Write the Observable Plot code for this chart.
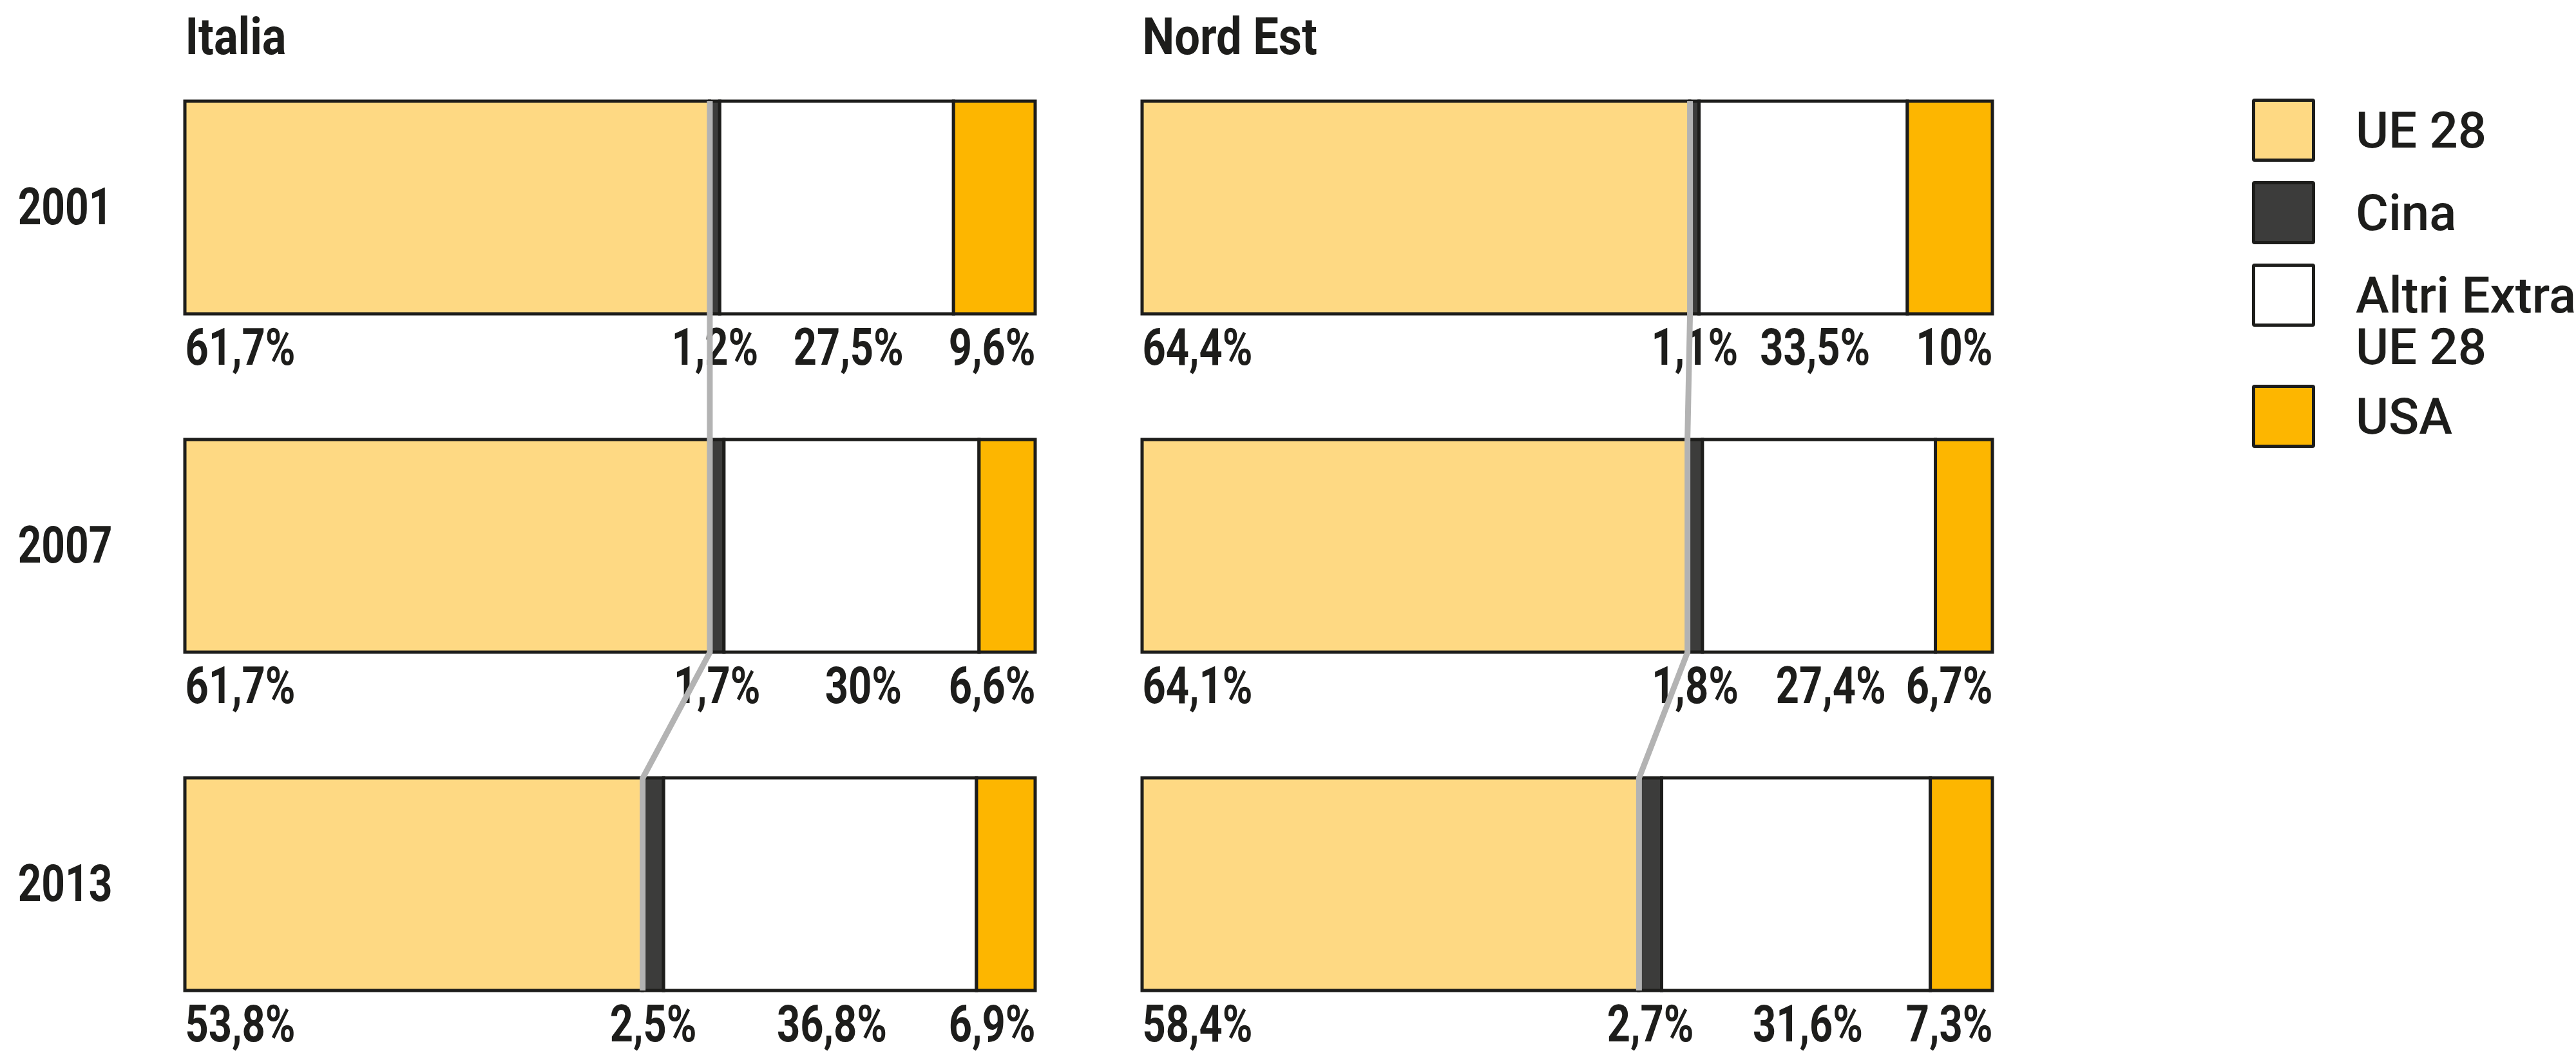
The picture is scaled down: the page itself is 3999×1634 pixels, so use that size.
<!DOCTYPE html>
<html><head><meta charset="utf-8">
<script src="https://cdn.jsdelivr.net/npm/d3@7"></script>
<script src="https://cdn.jsdelivr.net/npm/@observablehq/plot@0.6"></script>
<style>
html,body{margin:0;padding:0;background:#fff;}
#wrap{position:relative;width:3999px;height:1634px;overflow:hidden;}
#legend{position:absolute;left:3496px;top:153px;font-family:Roboto,sans-serif;font-weight:500;font-size:78px;color:#1d1d1b;}
.item{display:flex;align-items:flex-start;margin-bottom:30px;}
.sw{width:98px;height:98px;box-sizing:border-box;border:5px solid #1d1d1b;border-radius:4px;flex:none;}
.lab{margin-left:63px;line-height:80px;padding-top:10px;margin-bottom:-12px;white-space:pre-line;}
</style></head><body><div id="wrap"><div id="chart"></div><div id="legend"></div></div>
<script>
const regions = ["Italia", "Nord Est"];
const years = ["2001", "2007", "2013"];
const categories = ["UE 28", "Cina", "Altri Extra UE 28", "USA"];
const legendLabels = ["UE 28", "Cina", "Altri Extra\nUE 28", "USA"];
const colors = ["#fed983", "#3c3c3b", "#ffffff", "#fdb600"];
// drawn shares (rows = years, cols = categories)
const italiaValues = [[61.7, 1.2, 27.5, 9.6], [61.7, 1.7, 30, 6.6], [53.8, 2.5, 36.8, 6.9]];
const nordEstValues = [[64.4, 1.1, 24.5, 10], [64.1, 1.8, 27.4, 6.7], [58.4, 2.7, 31.6, 7.3]];
// printed labels
const italiaLabels = [["61,7%", "1,2%", "27,5%", "9,6%"], ["61,7%", "1,7%", "30%", "6,6%"], ["53,8%", "2,5%", "36,8%", "6,9%"]];
const nordEstLabels = [["64,4%", "1,1%", "33,5%", "10%"], ["64,1%", "1,8%", "27,4%", "6,7%"], ["58,4%", "2,7%", "31,6%", "7,3%"]];

const ROW_PAD = 0.3717;
const GAP = ROW_PAD / (1 - ROW_PAD);
const INK = "#1d1d1b";
const GREY = "#b3b3b3";

const byRegion = {"Italia": [italiaValues, italiaLabels], "Nord Est": [nordEstValues, nordEstLabels]};
const segs = [];
const links = [];
for (const region of regions) {
  const [vals, labs] = byRegion[region];
  years.forEach((year, i) => {
    let acc = 0;
    categories.forEach((cat, j) => {
      const v = vals[i][j];
      segs.push({region, year, cat, j, value: v, x0: acc, x1: acc + v, mid: acc + v / 2, label: labs[i][j]});
      acc += v;
    });
    links.push({region, year, b: vals[i][0], next: i + 1 < years.length ? vals[i + 1][0] : null});
  });
}

const labelOpts = {fx: "region", fy: "year", text: "label", y: () => 1, dy: 78, lineAnchor: "bottom", fontSize: 79};

const chart = Plot.plot({
  width: 3999, height: 1634,
  marginLeft: 287, marginRight: 906, marginTop: 157, marginBottom: 97,
  style: {fontFamily: "Roboto, sans-serif", fontSize: "80px", fontWeight: 700, color: INK, background: "transparent", overflow: "visible"},
  fx: {domain: regions, padding: 0.112, axis: null},
  fy: {domain: years, padding: ROW_PAD, axis: "left", label: null, tickSize: 0, tickPadding: 113},
  x: {domain: [0, 100], axis: null},
  y: {domain: [0, 1], reverse: true, axis: null},
  color: {domain: categories, range: colors},
  marks: [
    Plot.barX(segs, {x1: "x0", x2: "x1", fx: "region", fy: "year", fill: "cat", stroke: INK, strokeWidth: 5}),
    Plot.text(segs.filter(d => d.j === 0), {...labelOpts, x: "x0", textAnchor: "start"}),
    Plot.text(segs.filter(d => d.j === 1), {...labelOpts, x: "mid", textAnchor: "middle"}),
    Plot.text(segs.filter(d => d.j === 2), {...labelOpts, x: "mid", textAnchor: "middle", dx: 18}),
    Plot.text(segs.filter(d => d.j === 3), {...labelOpts, x: "x1", textAnchor: "end"}),
    Plot.ruleX(links, {x: "b", fx: "region", fy: "year", stroke: GREY, strokeWidth: 9}),
    Plot.link(links.filter(d => d.next != null), {x1: "b", x2: "next", y1: () => 1, y2: () => 1 + GAP, fx: "region", fy: "year", stroke: GREY, strokeWidth: 9, strokeLinecap: "round"}),
    Plot.text(regions, {fx: d => d, fy: () => years[0], text: d => d, frameAnchor: "top-left", textAnchor: "start", lineAnchor: "bottom", dy: -74})
  ]
});
document.getElementById("chart").appendChild(chart);

// condensed look: squeeze chart texts horizontally around their anchor
chart.querySelectorAll("text").forEach(el => {
  const sx = regions.includes(el.textContent) ? 0.88 : 0.8;
  const t = el.getAttribute("transform");
  if (t) el.setAttribute("transform", `${t} scale(${sx},1)`);
  else {
    const x = +el.getAttribute("x") || 0, y = +el.getAttribute("y") || 0;
    el.setAttribute("transform", `translate(${x},${y}) scale(${sx},1) translate(${-x},${-y})`);
  }
});

const legend = d3.select("#legend");
categories.forEach((c, i) => {
  const item = legend.append("div").attr("class", "item");
  item.append("div").attr("class", "sw").style("background", colors[i]);
  item.append("div").attr("class", "lab").text(legendLabels[i]);
});
</script></body></html>
